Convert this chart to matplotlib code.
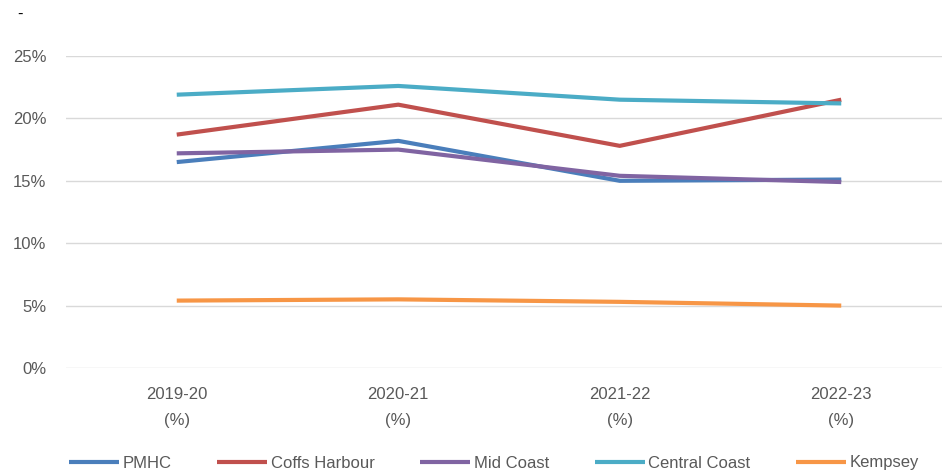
import matplotlib
matplotlib.use("Agg")
import matplotlib.pyplot as plt

categories = ["2019-20\n(%)", "2020-21\n(%)", "2021-22\n(%)", "2022-23\n(%)"]
series_names = ["PMHC", "Coffs Harbour", "Mid Coast", "Central Coast", "Kempsey"]
pmhc = [16.5, 18.2, 15.0, 15.1]
coffs = [18.7, 21.1, 17.8, 21.5]
mid_coast = [17.2, 17.5, 15.4, 14.9]
central_coast = [21.9, 22.6, 21.5, 21.2]
kempsey = [5.4, 5.5, 5.3, 5.0]
y_ticks = [0, 5, 10, 15, 20, 25]

colors = ["#4A7EBB", "#C0504D", "#8064A2", "#4BACC6", "#F79646"]
values = [pmhc, coffs, mid_coast, central_coast, kempsey]

plt.rcParams['font.family'] = ['Liberation Sans', 'DejaVu Sans']
fig = plt.figure(figsize=(9.42, 4.75), dpi=100)
ax = fig.add_axes([66/942, (475-368)/475, (952-66)/942, (368-56)/475])

x = list(range(len(categories)))
for name, vals, c in zip(series_names, values, colors):
    ax.plot(x, vals, color=c, lw=3.0, label=name, solid_capstyle='butt')

ax.set_xlim(-0.5, 3.5)
ax.set_ylim(0, 25)
ax.set_yticks(y_ticks)
ax.set_yticklabels([f"{t}%" for t in y_ticks])
ax.set_xticks(x)
ax.set_xticklabels(categories, linespacing=1.9)
for s in ax.spines.values():
    s.set_visible(False)
ax.grid(axis='y', color='#D9D9D9', lw=1.0)
ax.set_axisbelow(True)
ax.tick_params(length=0, colors='#595959', labelsize=12)
ax.tick_params(axis='y', pad=14)
ax.tick_params(axis='x', pad=14)

fig.text(17/942, 1-14/475, "-", fontsize=12, color='black', ha='left', va='center')

fig.legend(loc='center', bbox_to_anchor=(494/942, 1-463/475), ncol=5, frameon=False,
           fontsize=12, handlelength=3.0, handletextpad=0.2, columnspacing=2.75,
           labelcolor='#595959')

fig.savefig("out.png", dpi=100)
